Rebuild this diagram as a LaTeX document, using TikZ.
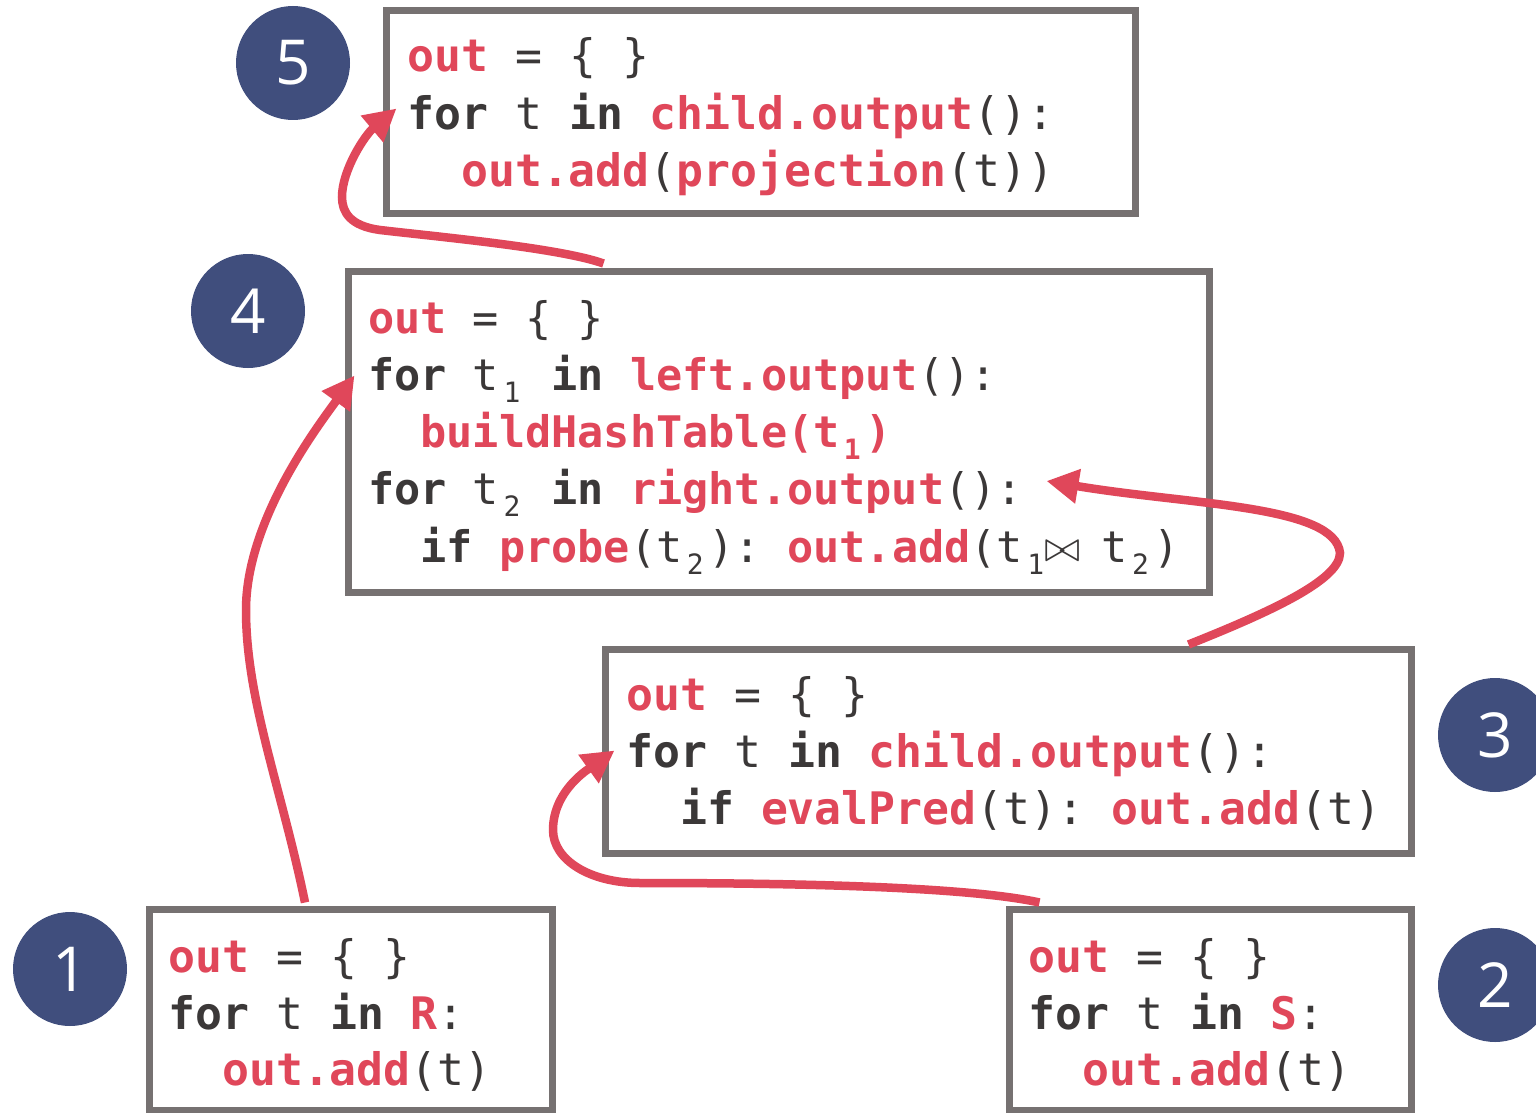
\documentclass[tikz,border=0pt]{standalone}
\usepackage{fontspec}
\usepackage{graphicx}
\setmonofont{DejaVu Sans Mono}
\newfontfamily\numfont{Open Sans}
\usetikzlibrary{arrows.meta}
\definecolor{cred}{HTML}{E0475A}
\definecolor{cgray}{HTML}{767171}
\definecolor{ctext}{HTML}{3B3838}
\definecolor{cblue}{HTML}{404E7D}
\newcommand{\Rd}[1]{\textcolor{cred}{\textbf{#1}}}
\newcommand{\Kw}[1]{\textbf{#1}}
\newcommand{\Sb}[1]{\makebox[0.602em][l]{\hspace{0.1em}\raisebox{-12pt}{\fontsize{28}{28}\selectfont #1}}}
\newcommand{\Bt}{\makebox[0.602em][c]{\raisebox{1pt}{\scalebox{4.3}{\fontsize{10}{12}\selectfont$\bowtie$}}}}
\begin{document}
\begin{tikzpicture}[x=1pt,y=-1pt,
  box/.style={draw=cgray, line width=7pt, inner sep=0pt, fill=white},
  code/.style={anchor=base west, inner sep=0pt, text=ctext,
    font=\ttfamily\fontsize{44.8}{57}\selectfont},
  codej/.style={code, font=\ttfamily\fontsize{43.5}{57}\selectfont},
  circ/.style={circle, fill=cblue, minimum size=114pt, inner sep=0pt,
    text=white, font=\numfont\fontsize{62}{62}\selectfont},
  flow/.style={draw=cred, line width=8.5pt, -{Triangle[length=32pt,width=33pt]}}]
\clip (0,0) rectangle (1536,1113);
\fill[white] (0,0) rectangle (1536,1113);
% boxes
\node[box, minimum width=749pt, minimum height=202pt] (b5) at (760.5,112) {};
\node[box, minimum width=861pt, minimum height=321pt] (b4) at (778.5,431.5) {};
\node[box, minimum width=806pt, minimum height=204pt] (b3) at (1008,751) {};
\node[box, minimum width=403pt, minimum height=201pt] (b1) at (350.5,1009.5) {};
\node[box, minimum width=402pt, minimum height=201pt] (b2) at (1210,1009.5) {};
% circles
\node[circ] (c5) at (293,63) {5};
\node[circ] (c4) at (248,311) {4};
\node[circ] (c3) at (1495,735) {3};
\node[circ] (c2) at (1495,985) {2};
\node[circ] (c1) at (70,969) {1};
% box 5 text
\node[code] (t51) at (407,72) {\Rd{out} = \{ \}};
\node[code] (t52) at (407,129) {\Kw{for} t \Kw{in} \Rd{child.output}():};
\node[code] (t53) at (460.9,186) {\Rd{out.add}(\Rd{projection}(t))};
% box 4 text
\node[codej] (t41) at (368,333) {\Rd{out} = \{ \}};
\node[codej] (t42) at (368,390) {\Kw{for} t\Sb{1} \Kw{in} \Rd{left.output}():};
\node[codej] (t43) at (420.4,447) {\Rd{buildHashTable(t\Sb{1})}};
\node[codej] (t44) at (368,504.5) {\Kw{for} t\Sb{2} \Kw{in} \Rd{right.output}():};
\node[codej] (t45) at (420.4,562) {\Kw{if} \Rd{probe}(t\Sb{2}): \Rd{out.add}(t\Sb{1}\Bt{} t\Sb{2})};
% box 3 text
\node[code] (t31) at (626,710) {\Rd{out} = \{ \}};
\node[code] (t32) at (626,767) {\Kw{for} t \Kw{in} \Rd{child.output}():};
\node[code] (t33) at (679.9,824) {\Kw{if} \Rd{evalPred}(t): \Rd{out.add}(t)};
% box 1 text
\node[code] (t11) at (168,972) {\Rd{out} = \{ \}};
\node[code] (t12) at (168,1029) {\Kw{for} t \Kw{in} \Rd{R}:};
\node[code] (t13) at (221.9,1085) {\Rd{out.add}(t)};
% box 2 text
\node[code] (t21) at (1028,972) {\Rd{out} = \{ \}};
\node[code] (t22) at (1028,1029) {\Kw{for} t \Kw{in} \Rd{S}:};
\node[code] (t23) at (1081.9,1085) {\Rd{out.add}(t)};
% arrows
\draw[flow] ([xshift=-45.5pt,yshift=3pt]b1.north)
  .. controls (282,790) and (246,700) .. (246,610)
  .. controls (246,520) and (318,426) .. ([xshift=10pt,yshift=-108pt]b4.north west);
\draw[flow] ([xshift=34pt,yshift=3pt]b2.north west)
  .. controls (960,885) and (760,883) .. (640,883)
  .. controls (590,883) and (553,860) .. (553,830)
  .. controls (553,790) and (590,768) .. ([xshift=13pt,yshift=-105pt]b3.north west);
\draw[flow] ([xshift=587pt,yshift=1pt]b3.north west)
  .. controls (1270,612) and (1340,580) .. (1340,553)
  .. controls (1335,505) and (1190,505) .. ([xshift=-166pt,yshift=-49.5pt]b4.east);
\draw[flow] ([xshift=259pt,yshift=4pt]b4.north west)
  .. controls (560,248) and (440,237) .. (380,230)
  .. controls (350,226) and (342,212) .. (342,197)
  .. controls (342,170) and (365,135) .. ([xshift=14pt,yshift=-101pt]b5.north west);
\end{tikzpicture}
\end{document}
